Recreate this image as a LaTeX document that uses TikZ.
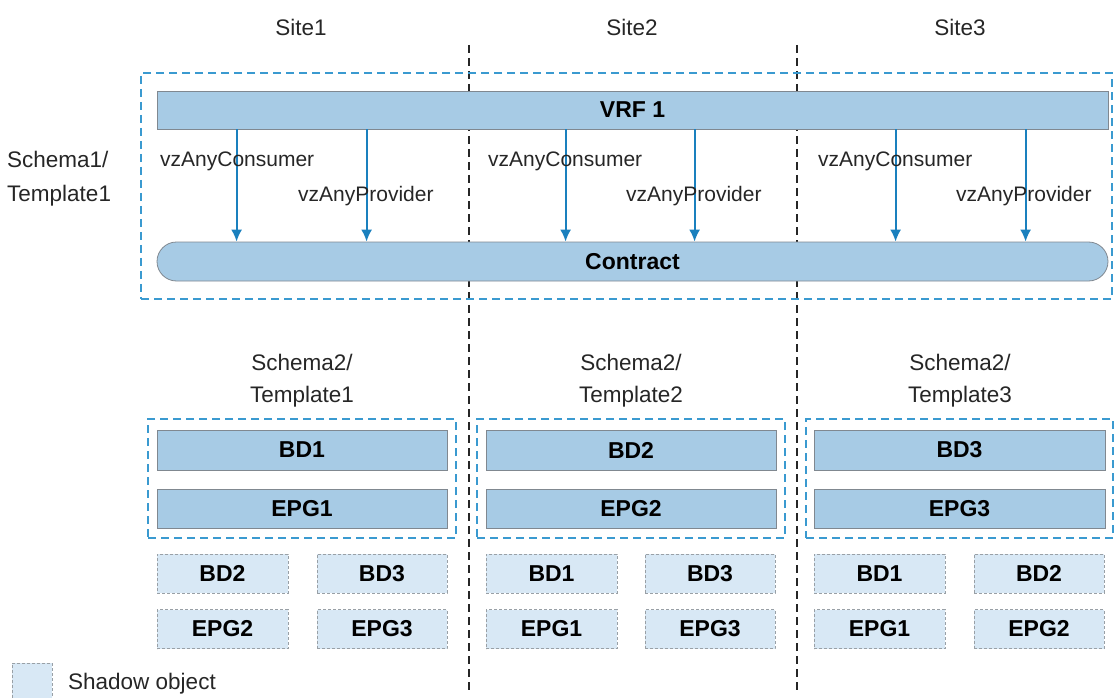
\documentclass[tikz,border=0pt]{standalone}
\usepackage{fontspec}
\setmainfont{Liberation Sans}
\usetikzlibrary{calc,arrows.meta}
\definecolor{barfill}{HTML}{A7CBE5}
\definecolor{barline}{HTML}{808890}
\definecolor{shadfill}{HTML}{D8E8F5}
\definecolor{dashblue}{HTML}{3A9AD0}
\definecolor{arrblue}{HTML}{1A80BE}
\begin{document}
\begin{tikzpicture}[x=1pt,y=-1pt,
  lbl/.style={font=\fontsize{22.5}{24}\selectfont, inner sep=0pt, text=black!85},
  vlbl/.style={font=\fontsize{21}{24}\selectfont, inner sep=0pt, text=black!85},
  bar/.style={draw=barline, fill=barfill, line width=0.8pt, inner sep=0pt, font=\fontsize{23}{24}\selectfont\bfseries},
  shad/.style={draw=barline!80, fill=shadfill, dashed, dash pattern=on 3pt off 2pt, line width=0.8pt, inner sep=0pt, font=\fontsize{23}{24}\selectfont\bfseries},
  bluebox/.style={draw=dashblue, dash pattern=on 8pt off 5pt, line width=1.5pt},
  divider/.style={draw=black!85, dash pattern=on 8pt off 5pt, line width=1.4pt},
  arr/.style={draw=arrblue, line width=1.8pt, -{Latex[length=12pt,width=11pt]}}]
\useasboundingbox (0,0) rectangle (1114,698);
% dividers
\coordinate (d1t) at (469,45); \coordinate (d1b) at (469,690);
\coordinate (d2t) at (797,45); \coordinate (d2b) at (797,690);
\draw[divider] (d1t) -- (d1b);
\draw[divider] (d2t) -- (d2b);
% site labels
\node[lbl] (s1) at (301,27) {Site1};
\node[lbl] (s2) at (632,27) {Site2};
\node[lbl] (s3) at (960,27) {Site3};
% outer box
\node[bluebox, minimum width=971pt, minimum height=226pt, inner sep=0pt] (outer) at (626.5,186) {};
\node[lbl, align=left, anchor=west, font=\fontsize{22.5}{34}\selectfont] (sch1) at (7,179) {Schema1/\\Template1};
% VRF and contract
\node[bar, minimum width=951pt, minimum height=38pt] (vrf) at (632.5,110) {VRF 1};
\node[bar, minimum width=951pt, minimum height=39pt, rounded corners=19.5pt] (contract) at (632.5,261.5) {Contract};
% arrows
\foreach \o/\n in {80/a1,210/a2,409/a3,538/a4,739/a5,869/a6}{
  \draw[arr] ($(vrf.south west)+(\o,0)$) -- ($(contract.north west)+(\o,0)$);
}
\foreach \xc/\xp/\n in {160/298/1,488/626/2,818/956/3}{
  \node[vlbl, anchor=west] (c\n) at (\xc,161) {vzAnyConsumer};
  \node[vlbl, anchor=west] (p\n) at (\xp,196) {vzAnyProvider};
}
% templates
\foreach \bx/\bxr/\n/\cx in {148/456/1/302,477/785/2/631,806/1113/3/960}{
  \node[lbl, align=center, font=\fontsize{22.5}{32}\selectfont] (t\n) at (\cx,381) {Schema2/\\Template\n};
  \node[bluebox, minimum width={\bxr-\bx}, minimum height=119pt, inner sep=0pt] (tb\n) at ({(\bx+\bxr)/2},478.5) {};
}
\node[bar, minimum width=290pt, minimum height=40pt] (bd1) at (302,450) {BD1};
\node[bar, minimum width=290pt, minimum height=39pt] (epg1) at (302,508.5) {EPG1};
\node[bar, minimum width=290pt, minimum height=40pt] (bd2) at (631,450) {BD2};
\node[bar, minimum width=290pt, minimum height=39pt] (epg2) at (631,508.5) {EPG2};
\node[bar, minimum width=291pt, minimum height=40pt] (bd3) at (959.5,450) {BD3};
\node[bar, minimum width=291pt, minimum height=39pt] (epg3) at (959.5,508.5) {EPG3};
% shadows
\foreach \xa/\na/\k in {157/2/1,486/1/2,814/1/3}{
  \node[shad, minimum width=131pt, minimum height=39pt] (sbda\k) at ({\xa+65.5},573.5) {BD\na};
  \node[shad, minimum width=131pt, minimum height=39pt] (sepa\k) at ({\xa+65.5},629) {EPG\na};
}
\foreach \xa/\nb/\k in {317/3/1,645/3/2,974/2/3}{
  \node[shad, minimum width=130pt, minimum height=39pt] (sbdb\k) at ({\xa+65},573.5) {BD\nb};
  \node[shad, minimum width=130pt, minimum height=39pt] (sepb\k) at ({\xa+65},629) {EPG\nb};
}
% legend
\node[shad, minimum width=40pt, minimum height=38pt] (leg) at (32,682) {};
\node[lbl, anchor=west] (legt) at (68,684) {Shadow object};
\end{tikzpicture}
\end{document}
